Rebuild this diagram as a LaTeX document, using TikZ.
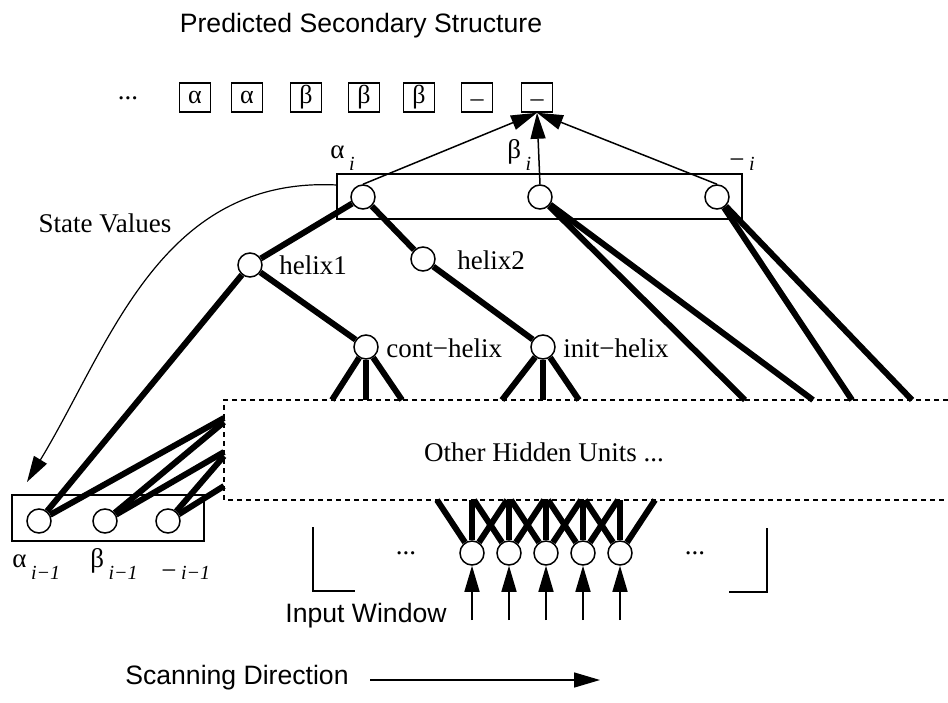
\documentclass[tikz,border=0pt]{standalone}
\usepackage{fontspec}
\setmainfont{Liberation Serif}
\setsansfont{Liberation Sans}
\usetikzlibrary{arrows.meta}
\newcommand{\idx}[2]{#1\raisebox{-6pt}{\,\fontsize{10}{10}\selectfont\textit{#2}}}
\newcommand{\coil}{\raisebox{-1.5pt}{–}}

\begin{document}
\begin{tikzpicture}[x=0.5pt,y=-0.5pt,
  unit/.style={circle,draw,line width=0.75pt,fill=white,minimum size=12pt,inner sep=0pt},
  outbox/.style={draw,line width=0.75pt,minimum width=15.5pt,minimum height=14.5pt,inner sep=0pt,
    text height=9pt,text depth=3pt,font=\fontsize{13}{13}\selectfont},
  layer/.style={draw,line width=0.75pt},
  wire/.style={line width=3pt},
  hidbox/.style={line width=0.75pt,dash pattern=on 2.5pt off 2pt},
  arr/.style={line width=0.75pt,-{Triangle[length=13pt,width=7.5pt]}},
  lab/.style={font=\fontsize{13.5}{15}\selectfont,inner sep=0pt},
  slab/.style={font=\sffamily\fontsize{13.3}{15}\selectfont,inner sep=0pt}]
  \useasboundingbox (0,0) rectangle (948,702);

  % predicted sequence
  \node[slab] (title) at (361,26) {Predicted Secondary Structure};
  \node[lab] (odots) at (128,98) {...};
  \foreach \x/\sym [count=\k] in {195/α,247/α,306/β,364/β,419/β,477/\coil,537/\coil}
    \node[outbox] (o\k) at (\x,97.5) {\sym};

  % state units at i
  \node[unit] (a) at (363,197) {};
  \node[unit] (b) at (540,197) {};
  \node[unit] (c) at (717,197) {};
  \draw[layer] (337,174) rectangle (742,219);
  \node[lab,anchor=base west] (la) at (330,158) {\idx{α}{i}};
  \node[lab,anchor=base west] (lb) at (507,158) {\idx{β}{i}};
  \node[lab,anchor=base west] (lc) at (729,158) {\raisebox{-5pt}{−}\idx{}{i}};
  \foreach \n in {a,b,c}
    \draw[arr] (\n.north) -- (o7.south);

  % helix units
  \node[unit] (h1) at (250,265) {};
  \node[unit] (h2) at (423,259) {};
  \node[unit] (ch) at (366,347) {};
  \node[unit] (ih) at (543,347) {};
  \node[lab,anchor=west] (h1l) at (279,265) {helix1};
  \node[lab,anchor=west] (h2l) at (457,260) {helix2};
  \node[lab,anchor=west] (chl) at (386,348) {cont−helix};
  \node[lab,anchor=west] (ihl) at (563,348) {init−helix};

  % other hidden units
  \draw[hidbox] (948,400) -- (224,400) -- (224,500) -- (948,500);
  \node[lab] (other) at (544,452) {Other Hidden Units ...};

  % state units at i-1
  \node[unit] (pa) at (39,521) {};
  \node[unit] (pb) at (105,521) {};
  \node[unit] (pc) at (168,521) {};
  \draw[layer] (12,495) rectangle (204,541);
  \node[lab,anchor=base west] (lpa) at (12,567) {\idx{α}{i−1}};
  \node[lab,anchor=base west] (lpb) at (90,567) {\idx{β}{i−1}};
  \node[lab,anchor=base west] (lpc) at (161,567) {\raisebox{-6pt}{−}\idx{}{i−1}};

  \draw[wire] (a) -- (h1);
  \draw[wire] (a) -- (h2);
  \draw[wire] (h1) -- (ch);
  \draw[wire] (h2) -- (ih);
  \draw[wire] (h1) -- (pa);
  \foreach \src/\x [count=\k] in {ch/332,ch/366,ch/402,ih/502,ih/543,ih/579,b/745,b/813,c/852,c/912}{
    \coordinate (top\k) at (\x,400);
    \draw[wire] (\src) -- (top\k);
  }
  \foreach \src/\y [count=\k] in {pa/418,pb/422,pb/452,pc/456,pc/486}{
    \coordinate (side\k) at (224,\y);
    \draw[wire] (\src) -- (side\k);
  }

  % input window
  \foreach \k in {1,...,5}{
    \pgfmathsetmacro\x{435+37*\k}
    \node[unit] (in\k) at (\x,553) {};
    \coordinate (src\k) at (\x,620);
    \draw[arr] (src\k) -- (in\k);
    \foreach \d [count=\j] in {-35,0,35}{
      \coordinate (bot\k\j) at (\x+\d,500);
      \draw[wire] (in\k) -- (bot\k\j);
    }
  }
  \draw[layer] (313,527) -- (313,591) -- (355,591);
  \draw[layer] (767,528) -- (767,592) -- (729,592);
  \node[lab] (ldots) at (406,553) {...};
  \node[lab] (rdots) at (695,553) {...};
  \node[slab] (win) at (366,616) {Input Window};

  % fed back state
  \coordinate (svs) at (337,185);
  \coordinate (sve) at (27,482);
  \draw[arr,line width=0.6pt] (svs) .. controls (160,176) and (110,345) .. (sve);
  \node[lab] (sv) at (105,223) {State Values};

  \node[slab] (scan) at (237,678) {Scanning Direction};
  \coordinate (sc1) at (370,680);
  \coordinate (sc2) at (600,680);
  \draw[arr] (sc1) -- (sc2);
\end{tikzpicture}
\end{document}
